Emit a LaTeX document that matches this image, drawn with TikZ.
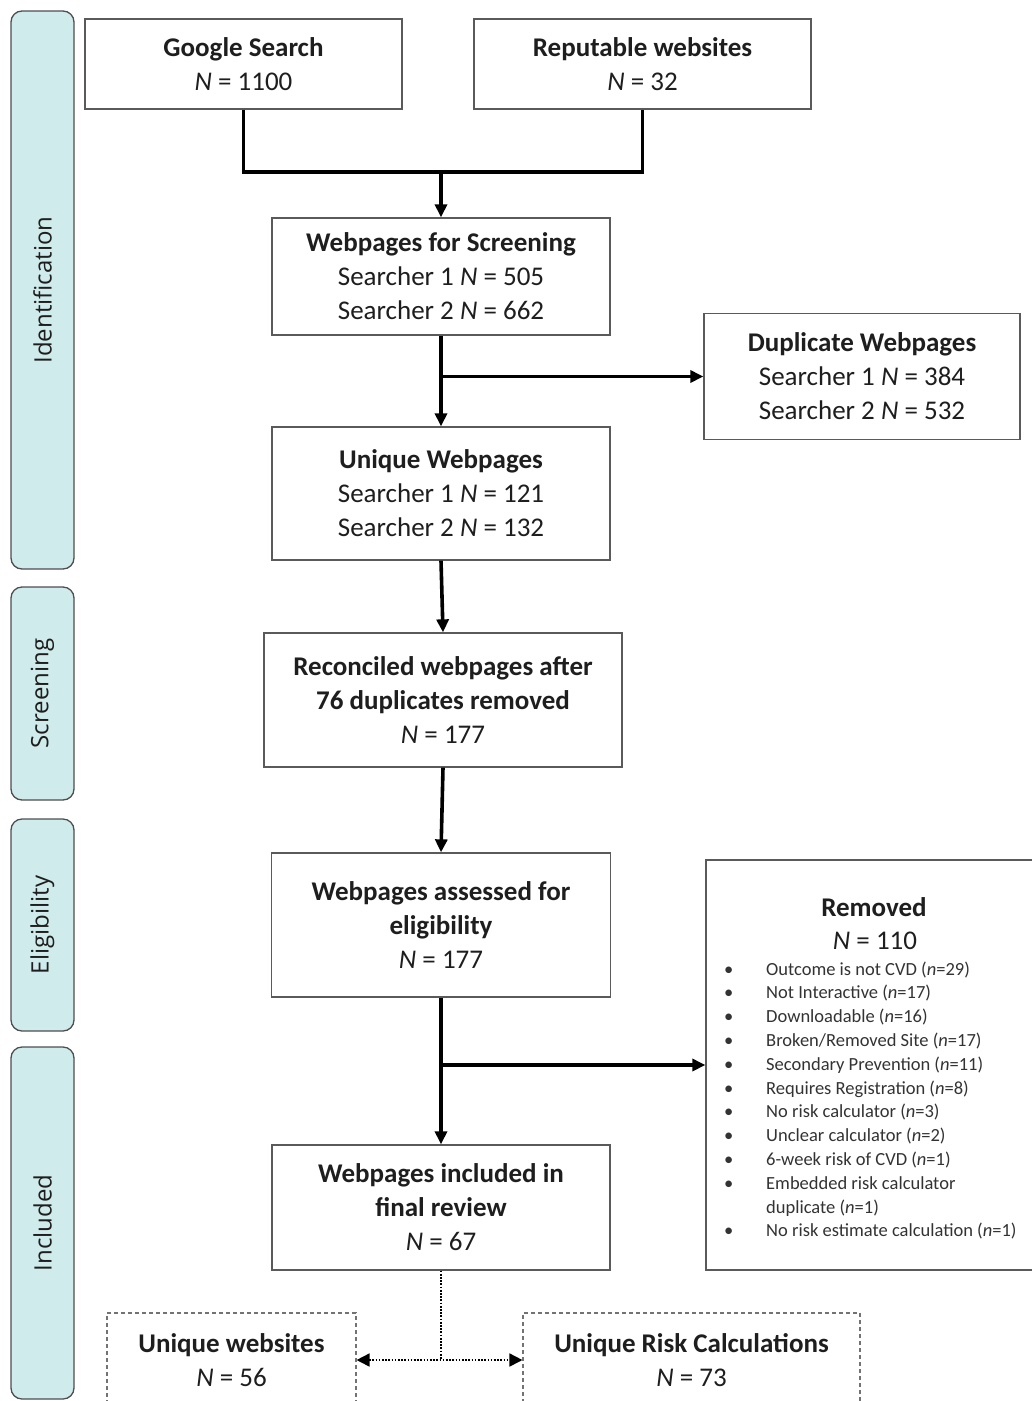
\documentclass[tikz,border=0pt]{standalone}
\usepackage{fontspec}
\setmainfont{Carlito}
\newfontfamily\bandfont{Open Sans}
\usetikzlibrary{arrows.meta,calc}
\definecolor{bandfill}{HTML}{D0EBEB}
\definecolor{bandline}{HTML}{4E4E4E}
\definecolor{boxline}{HTML}{5A5A5A}
\definecolor{txt}{HTML}{1E1E1E}
\definecolor{listtxt}{HTML}{333333}
\begin{document}
\begin{tikzpicture}[x=1pt,y=-1pt,
  band/.style={draw=bandline, line width=1.3pt, fill=bandfill, rounded corners=11pt,
    rotate=90, minimum height=63pt, inner sep=0pt, text=txt,
    font=\bandfont\fontsize{24}{28}\selectfont},
  box/.style={draw=boxline, line width=1.3pt, fill=white, align=center, inner sep=0pt,
    text=txt, font=\fontsize{27}{34}\selectfont},
  dbox/.style={box, draw=boxline!85, line width=1.1pt, dash pattern=on 4pt off 3pt},
  arr/.style={line width=3.6pt, -{Triangle[length=13pt,width=12pt]}},
  conn/.style={line width=3.6pt},
  dotline/.style={line width=1.7pt, dash pattern=on 1.7pt off 1.5pt},
  dotarr/.style={dotline, {Triangle[length=13pt,width=13pt]}-{Triangle[length=13pt,width=13pt]}}
]
\clip (0,0) rectangle (1032,1401);
\useasboundingbox (0,0) rectangle (1032,1401);

% side bands
\node[band, minimum width=558pt] (bid) at (42.5,290) {Identification};
\node[band, minimum width=213pt] (bsc) at (42.5,693.5) {Screening};
\node[band, minimum width=212pt] (bel) at (42.5,925) {Eligibility};
\node[band, minimum width=352pt] (bin) at (42.5,1223) {Included};

% boxes
\node[box, minimum width=317pt, minimum height=90pt] (google) at (243.5,64)
  {\textbf{Google Search}\\\textit{N} = 1100};
\node[box, minimum width=337pt, minimum height=90pt] (reput) at (642.5,64)
  {\textbf{Reputable websites}\\\textit{N} = 32};
\node[box, minimum width=338pt, minimum height=117pt] (wscreen) at (441,276.5)
  {\textbf{Webpages for Screening}\\Searcher 1 \textit{N} = 505\\Searcher 2 \textit{N} = 662};
\node[box, minimum width=316pt, minimum height=126pt] (dup) at (862,376.5)
  {\textbf{Duplicate Webpages}\\Searcher 1 \textit{N} = 384\\Searcher 2 \textit{N} = 532};
\node[box, minimum width=338pt, minimum height=133pt] (unique) at (441,493.5)
  {\textbf{Unique Webpages}\\Searcher 1 \textit{N} = 121\\Searcher 2 \textit{N} = 132};
\node[box, minimum width=358pt, minimum height=134pt] (recon) at (443,700)
  {\textbf{Reconciled webpages after}\\\textbf{76 duplicates removed}\\\textit{N} = 177};
\node[box, minimum width=339pt, minimum height=144pt] (assess) at (441,925)
  {\textbf{Webpages assessed for}\\\textbf{eligibility}\\\textit{N} = 177};
\node[box, minimum width=340pt, minimum height=410pt] (removed) at (876,1065) {};
\node[box, minimum width=338pt, minimum height=125pt] (included) at (441,1207.5)
  {\textbf{Webpages included in}\\\textbf{final review}\\\textit{N} = 67};
\node[dbox, minimum width=249pt, minimum height=94pt] (uweb) at (231.5,1360)
  {\textbf{Unique websites}\\\textit{N} = 56};
\node[dbox, minimum width=337pt, minimum height=94pt] (urisk) at (691.5,1360)
  {\textbf{Unique Risk Calculations}\\\textit{N} = 73};

% removed content
\node[anchor=base, inner sep=0pt, text=txt, font=\fontsize{27}{34}\selectfont] (rtitle) at (874,916) {\textbf{Removed}};
\node[anchor=base, inner sep=0pt, text=txt, font=\fontsize{27}{34}\selectfont] (rn) at (875,949) {\textit{N} = 110};
\node[anchor=base west, inner sep=0pt, text=listtxt, font=\fontsize{18.5}{23.8}\selectfont] (rlist) at (724,975)
{\begin{tabular}[t]{@{}p{42pt}@{}l@{}}
\textbullet & Outcome is not CVD (\textit{n}=29)\\
\textbullet & Not Interactive (\textit{n}=17)\\
\textbullet & Downloadable (\textit{n}=16)\\
\textbullet & Broken/Removed Site (\textit{n}=17)\\
\textbullet & Secondary Prevention (\textit{n}=11)\\
\textbullet & Requires Registration (\textit{n}=8)\\
\textbullet & No risk calculator (\textit{n}=3)\\
\textbullet & Unclear calculator (\textit{n}=2)\\
\textbullet & 6-week risk of CVD (\textit{n}=1)\\
\textbullet & Embedded risk calculator\\
 & duplicate (\textit{n}=1)\\
\textbullet & No risk estimate calculation (\textit{n}=1)
\end{tabular}};

% connectors
\coordinate (j1) at (441,172);
\draw[conn] (google.south) |- (j1) -| (reput.south);
\draw[arr] (j1) -- (wscreen.north);
\draw[arr] (wscreen.south) -- (unique.north);
\coordinate (b1) at (wscreen.south |- dup.west);
\draw[arr] (b1) -- (dup.west);
\draw[arr] (unique.south) -- (recon.north);
\draw[arr] (recon.south) -- (assess.north);
\draw[arr] (assess.south) -- (included.north);
\coordinate (b2) at (assess.south |- removed.west);
\draw[arr] (b2) -- (removed.west);
\coordinate (j2) at (included.south |- uweb.east);
\draw[dotline] (included.south) -- (j2);
\draw[dotarr] (uweb.east) -- (urisk.west);
\end{tikzpicture}
\end{document}
